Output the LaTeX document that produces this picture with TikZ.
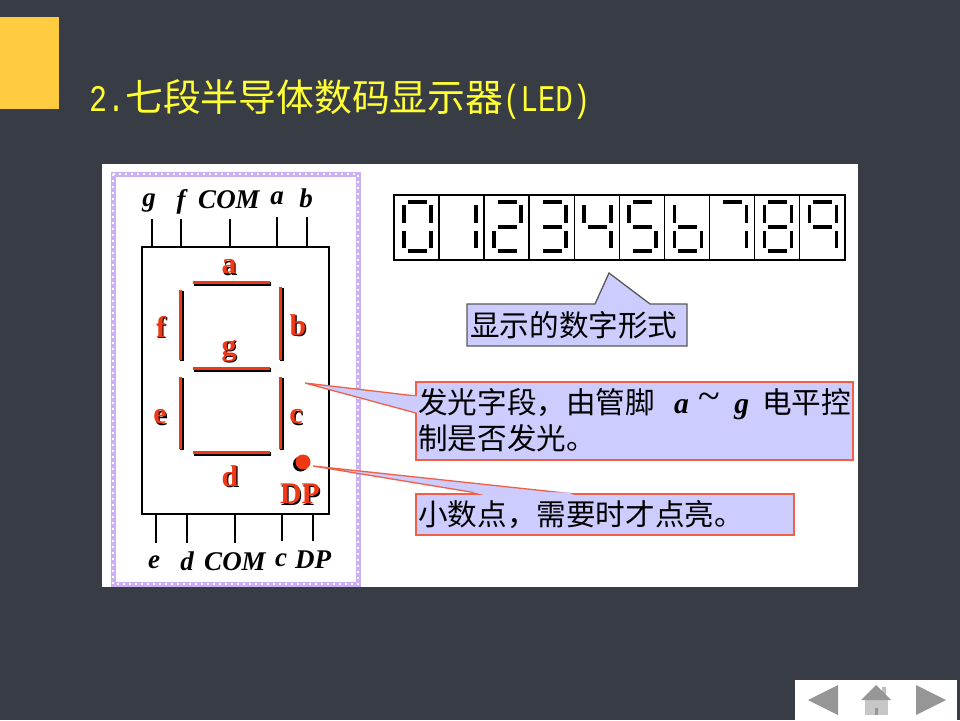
\documentclass[tikz,border=0pt]{standalone}
\usepackage{fontspec}
\setmainfont{Liberation Serif}
\newfontfamily\cjk{Noto Sans CJK SC}
\newfontfamily\titlemono{Liberation Mono}
\usetikzlibrary{positioning,calc}
\definecolor{slide}{RGB}{56,60,69}
\definecolor{tab}{RGB}{255,204,64}
\definecolor{titleyel}{RGB}{255,255,51}
\definecolor{segred}{RGB}{240,56,20}
\definecolor{callred}{RGB}{240,96,72}
\definecolor{callfill}{RGB}{204,204,255}
\definecolor{frame}{RGB}{204,176,245}
\definecolor{navgray}{RGB}{150,150,150}
\newcommand{\fsize}[1]{\fontsize{#1}{#1}\selectfont}
\newcommand{\seglabel}[3]{%
  \node[seglab,text=black] (#1shadow) at ($(#2)+(1.2,1.2)$) {#3};
  \node[seglab,text=segred] (#1) at (#2) {#3};}
\tikzset{
  seglab/.style={inner sep=0pt,font=\fsize{30}\bfseries},
  pinlab/.style={inner sep=0pt,font=\fsize{27}\bfseries\itshape},
  pinline/.style={line width=2pt,black},
  segline/.style={line width=3.4pt,segred},
  segback/.style={line width=3.4pt,black},
  digitseg/.style={line width=3.6pt,black},
  callout/.style={fill=callfill,draw=callred,line width=1.3pt,line join=miter},
  calltext/.style={inner sep=0pt,anchor=west,align=left,font=\cjk\fsize{29.6}},
}
\begin{document}
\begin{tikzpicture}[x=1pt,y=-1pt]
\useasboundingbox (0,0) rectangle (960,720);
\fill[slide] (0,0) rectangle (960,720);
\fill[tab] (0,17) rectangle (59,109);
\node[inner sep=0pt,anchor=west,text=titleyel] (title) at (89,99)
  {{\titlemono\fsize{30}\scalebox{1}[1.25]{2.}}{\cjk\fsize{37.8}七段半导体数码显示器}{\titlemono\fsize{29}\scalebox{1}[1.3]{(LED)}}};
\fill[white] (102,164) rectangle (858,587);
% wavy frame
\draw[frame,line width=5pt] (113,174) rectangle (358,584);
\draw[white,line width=1.5pt,dash pattern=on 2pt off 4pt] (113,174) rectangle (358,584);
% display body
\node[draw,line width=2.2pt,inner sep=0pt,minimum width=187pt,minimum height=267pt] (ic) at (235.5,380.5) {};
\foreach \nm/\x/\yy/\lx/\ly/\txt in {pg/152/219/149/203/g,pf/181/219/181/202/f,pcom/230/219/229/200/COM,pa/277/217/277/198/a,pb/307/217/306/198/b}{
  \coordinate (\nm) at (\x,\yy);
  \node[pinlab] (\nm lab) at (\lx,\ly) {\txt};
  \draw[pinline] (\nm) -- (\nm |- ic.north);
}
\foreach \nm/\x/\yy/\lx/\ly/\txt in {qe/156/543/154/562/e,qd/187/543/187/561/d,qcom/235/543/235/562/COM,qc/282/541/281/560/c,qdp/313/541/313/560/DP}{
  \coordinate (\nm) at (\x,\yy);
  \node[pinlab] (\nm lab) at (\lx,\ly) {\txt};
  \draw[pinline] (\nm) -- (\nm |- ic.south);
}
% segments
\foreach \xa/\ya/\xb/\yb in {194/284/271/284,194/370/271/370,194/454/271/454,182/291/182/361,282/288/282/361,182/378/182/450,282/378/282/450}{
  \draw[segback] (\xa,\ya) -- (\xb,\yb);
  \draw[segline] (\xa-1.5,\ya-1.5) -- (\xb-1.5,\yb-1.5);
}
\seglabel{la}{229,267}{a}
\seglabel{lf}{161,327}{f}
\seglabel{lb}{298,325}{b}
\seglabel{lg}{229,351}{g}
\seglabel{le}{160,417}{e}
\seglabel{lc}{296,417}{c}
\seglabel{ld}{230,476}{d}
\seglabel{ldp}{300,494}{DP}
\fill[black] (300.5,464) circle (7.5);
\fill[segred] (303,462) circle (7.5);
% digit strip
\node[draw,line width=2.2pt,inner sep=0pt,minimum width=451pt,minimum height=65pt] (strip) at (619.5,227.5) {};
\foreach \i in {1,...,9}{
  \draw[line width=1.4pt] (394+45.05*\i,195) -- (394+45.05*\i,260);
}
\foreach \xa/\ya/\xb/\yb/\digits in {
  14/202/33/202/{0,2,3,5,7,8,9},
  14/227/33/227/{2,3,4,5,6,8,9},
  14/251/33/251/{0,2,3,5,6,8},
  10/205/10/223/{0,4,5,6,8,9},
  37/205/37/223/{0,1,2,3,4,7,8,9},
  10/231/10/248/{0,2,6,8},
  37/231/37/248/{0,1,3,4,5,6,7,8,9}}{
  \foreach \d in \digits{
    \draw[digitseg] (394+45.05*\d+\xa,\ya) -- (394+45.05*\d+\xb,\yb);
  }
}
% callouts
\coordinate (tipform) at (609,273);
\draw[fill=callfill,draw=black!65,line width=1.3pt] (467,304) -- (595,304) -- (tipform) -- (650,304) -- (687,304) -- (687,346) -- (467,346) -- cycle;
\node[calltext] (formtext) at (470,325) {显示的数字形式};
\coordinate (tipseg) at (305,383);
\draw[callout] (416,382) rectangle (853,460);
\draw[callout] (416,396) -- (tipseg) -- (416,413);
\fill[callfill] (417,396.5) -- (417,412.5) -- (412,411) -- (412,396) -- cycle;
\node[calltext,text width=436pt] (segtext) at (418,420) {发光字段，由管脚\hspace{19pt}{\rmfamily\bfseries\itshape a}\hspace{10pt}{\rmfamily\fsize{40}\raisebox{4pt}{\textasciitilde}}\hspace{14pt}{\rmfamily\bfseries\itshape g}\hspace{13pt}电平控\\[4pt]制是否发光。};
\coordinate (tipdot) at (313,466);
\draw[callout] (416,494) rectangle (794,535);
\draw[callout] (483,494) -- (tipdot) -- (574,494);
\fill[callfill] (483.5,494.8) -- (573.5,494.8) -- (568,492.5) -- (470,491.5) -- cycle;
\node[calltext] (dottext) at (418,515) {小数点，需要时才点亮。};
% nav bar
\fill[white] (795,680) rectangle (957,720);
\fill[navgray] (808,700) -- (838,685) -- (838,715) -- cycle;
\fill[navgray] (946,700) -- (916,685) -- (916,715) -- cycle;
\fill[black!25] (882,687) rectangle (886,697);
\fill[black!22] (865,700) rectangle (888,715);
\fill[navgray] (861,700) -- (876,685) -- (891,700) -- cycle;
\fill[navgray] (875,708) rectangle (878,715);
\end{tikzpicture}
\end{document}
